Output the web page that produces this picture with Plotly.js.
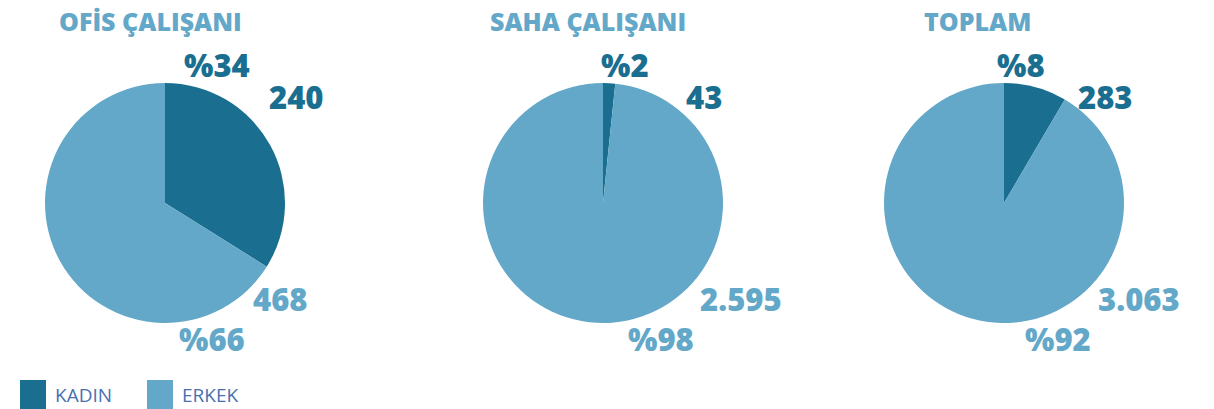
<!DOCTYPE html>
<html>
<head>
<meta charset="utf-8">
<script src="https://cdn.plot.ly/plotly-3.0.1.min.js"></script>
<style>html,body{margin:0;padding:0;background:#fff;}#chart{width:1214px;height:409px;}</style>
</head>
<body>
<div id="chart"></div>
<script>
const groups = ["OFİS ÇALIŞANI", "SAHA ÇALIŞANI", "TOPLAM"];
const categories = ["KADIN", "ERKEK"];
const kadin = [240, 43, 283];
const erkek = [468, 2595, 3063];
const colors = ["#1a6f91", "#63a8c8"];

const W = 1214, H = 409;
// pie centres (px) and radius
const centersX = [165, 603, 1004];
const centerY = 203;
const R = 120;
// label positions (px)
const labelPos = [
  {pk:[217,65], nk:[296,97], pe:[212,339], ne:[280,299]},
  {pk:[625,65], nk:[704,97], pe:[661,339], ne:[741,299]},
  {pk:[1021,65], nk:[1105,97], pe:[1058,339], ne:[1139,299]}
];
const titleX = [57, 488, 922];

const FONT = "Open Sans, DejaVu Sans, sans-serif";
const fmt = n => n.toLocaleString('de-DE');

const data = groups.map((g, i) => ({
  type: 'pie',
  labels: categories,
  values: [kadin[i], erkek[i]],
  marker: {colors: colors, line: {width: 0}},
  sort: false,
  direction: 'clockwise',
  rotation: 0,
  textinfo: 'none',
  hoverinfo: 'none',
  showlegend: false,
  domain: {
    x: [(centersX[i] - R) / W, (centersX[i] + R) / W],
    y: [1 - (centerY + R) / H, 1 - (centerY - R) / H]
  }
}));

const annotations = [];
const px = (x, y) => ({x: x / W, y: 1 - y / H, xref: 'paper', yref: 'paper'});
groups.forEach((g, i) => {
  const tot = kadin[i] + erkek[i];
  const pk = Math.round(kadin[i] / tot * 100);
  const pe = Math.round(erkek[i] / tot * 100);
  const lp = labelPos[i];
  annotations.push(Object.assign(px(titleX[i], 21), {text: g, showarrow: false, xanchor: 'left', yanchor: 'middle',
    font: {family: FONT, size: 25, weight: 800, color: colors[1]}}));
  const items = [
    [lp.pk, '%' + pk, colors[0]],
    [lp.nk, fmt(kadin[i]), colors[0]],
    [lp.pe, '%' + pe, colors[1]],
    [lp.ne, fmt(erkek[i]), colors[1]]
  ];
  items.forEach(([p, t, c]) => {
    annotations.push(Object.assign(px(p[0], p[1]), {text: t, showarrow: false, xanchor: 'center', yanchor: 'middle',
      font: {family: FONT, size: 31, weight: 800, color: c}}));
  });
});

// legend
const shapes = [];
const legX = [20, 147];
categories.forEach((c, j) => {
  shapes.push({type: 'rect', xref: 'paper', yref: 'paper', x0: legX[j] / W, x1: (legX[j] + 26) / W,
    y0: 0, y1: 1 - 380 / H, fillcolor: colors[j], line: {width: 0}});
  annotations.push(Object.assign(px(legX[j] + 33, 395), {text: c, showarrow: false, xanchor: 'left', yanchor: 'middle',
    font: {family: FONT, size: 19, weight: 400, color: '#4a70b0'}}));
});

const layout = {
  width: W, height: H,
  margin: {l: 0, r: 0, t: 0, b: 0},
  paper_bgcolor: '#ffffff',
  showlegend: false,
  annotations: annotations,
  shapes: shapes
};

Plotly.newPlot('chart', data, layout, {displayModeBar: false, staticPlot: true});
</script>
</body>
</html>
